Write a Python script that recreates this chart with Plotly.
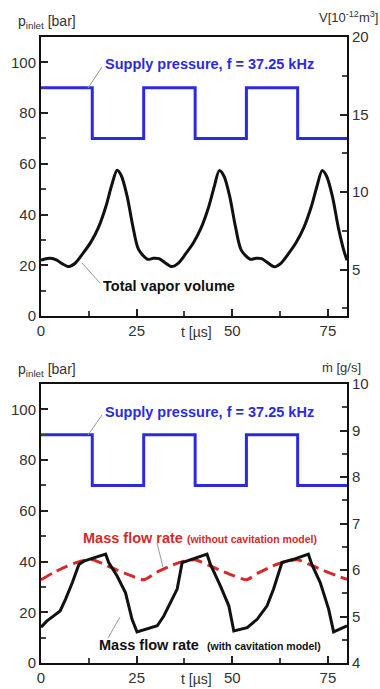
import plotly.graph_objects as go

# ---------------- data ----------------
# supply pressure square wave (bar), f = 37.25 kHz
p_t = [0, 13.4, 13.4, 26.85, 26.85, 40.3, 40.3, 53.7, 53.7, 67.1, 67.1, 80]
p_bar = [90, 90, 70, 70, 90, 90, 70, 70, 90, 90, 70, 70]

# total vapor volume (10^-12 m^3)
v_t = [0, 1, 2.5, 4, 5.5, 7.3, 9, 11, 13, 15, 17, 18.5, 19.9, 21, 22.5, 24, 25.5,
       27.85, 29.35, 30.85, 32.35, 34.15, 35.85, 37.85, 39.85, 41.85, 43.85, 45.35, 46.6, 47.85, 49.35, 50.85, 52.35,
       54.7, 56.2, 57.7, 59.2, 61.0, 62.7, 64.7, 66.7, 68.7, 70.7, 72.2, 73.5, 74.7, 76.2, 77.7, 79.2, 80]
v_vol = [5.60, 5.68, 5.72, 5.62, 5.38, 5.19, 5.42, 6.05, 6.75, 7.70, 9.10, 10.45, 11.40, 11.05, 9.75, 7.80, 6.30,
         5.66, 5.72, 5.70, 5.45, 5.19, 5.40, 6.02, 6.72, 7.68, 9.05, 10.40, 11.38, 11.02, 9.70, 7.75, 6.25,
         5.66, 5.72, 5.70, 5.45, 5.18, 5.40, 6.02, 6.74, 7.70, 9.08, 10.42, 11.38, 11.00, 9.70, 7.75, 6.20, 5.60]

# mass flow rate without cavitation model (g/s)
mr_t = [0, 3.4, 6.7, 10, 13.4, 16.8, 20.1, 23.5, 26.85, 30.2, 33.6, 36.9, 40.3, 43.6, 47.0, 50.3,
        53.7, 57.1, 60.4, 63.8, 67.1, 70.5, 73.8, 77.2, 80]
mr_val = [5.79, 5.95, 6.08, 6.18, 6.22, 6.11, 5.99, 5.88, 5.79, 5.95, 6.08, 6.18, 6.22, 6.11, 5.99, 5.88,
          5.79, 5.95, 6.08, 6.18, 6.22, 6.11, 5.99, 5.88, 5.80]

# mass flow rate with cavitation model (g/s)
mc_t = [0, 1.5, 3.4, 5.0, 6.4, 8.2, 9.9, 11.2, 13.8, 16.9, 17.7, 19.9, 22.1, 23.8, 25.1, 27.8, 30.4, 32.1, 33.8, 35.6,
        36.9, 39.9, 43.4, 44.3, 46.9, 49.1, 50.4, 53.9, 56.5, 59.1, 60.8, 63.0, 66.0, 69.9, 70.8, 73.0, 75.2,
        76.5, 79.1, 80]
mc_val = [4.77, 4.90, 5.02, 5.12, 5.37, 5.73, 6.12, 6.19, 6.26, 6.34, 6.16, 5.87, 5.51, 4.94, 4.67, 4.73, 4.80, 5.01,
          5.30, 5.59, 6.16, 6.24, 6.34, 6.12, 5.66, 5.23, 4.69, 4.76, 4.94, 5.23, 5.59, 6.16, 6.23, 6.34, 6.12, 5.73,
          5.16, 4.67, 4.77, 4.80]

x_ticks = [0, 25, 50, 75]
p_ticks = [0, 20, 40, 60, 80, 100]
v_ticks = [5, 10, 15, 20]
m_ticks = [4, 5, 6, 7, 8, 9, 10]

BLUE = "#2b2bdc"
RED = "#d42a2a"
BLACK = "#111111"
TXT = "#333333"
FONT = "Liberation Sans, Arial, sans-serif"

W, H = 380, 689
def py(pix):
    return 1 - pix / H
def px(pix):
    return pix / W

xdom = [px(41), px(347)]
top_dom = [py(316), py(37)]
bot_dom = [py(663), py(384)]

fig = go.Figure()

# top panel
fig.add_trace(go.Scatter(x=p_t, y=p_bar, mode="lines", line=dict(color=BLUE, width=3),
                         xaxis="x", yaxis="y", showlegend=False))
fig.add_trace(go.Scatter(x=v_t, y=v_vol, mode="lines", line=dict(color=BLACK, width=3, shape="spline", smoothing=0.8),
                         xaxis="x", yaxis="y2", showlegend=False))
# bottom panel
fig.add_trace(go.Scatter(x=p_t, y=p_bar, mode="lines", line=dict(color=BLUE, width=3),
                         xaxis="x2", yaxis="y3", showlegend=False))
fig.add_trace(go.Scatter(x=mr_t, y=mr_val, mode="lines",
                         line=dict(color=RED, width=3, dash="12px,6px", shape="spline", smoothing=0.6),
                         xaxis="x2", yaxis="y4", showlegend=False))
fig.add_trace(go.Scatter(x=mc_t, y=mc_val, mode="lines", line=dict(color=BLACK, width=3),
                         xaxis="x2", yaxis="y4", showlegend=False))

tickfont = dict(family=FONT, size=15, color=TXT)
common_x = dict(range=[0, 80], tickvals=x_ticks, ticks="inside", ticklen=7, tickwidth=1.5, tickcolor="#222",
                showline=True, linecolor="#111", linewidth=2, mirror=True, showgrid=False, zeroline=False,
                tickfont=tickfont, automargin=False,
                minor=dict(tickvals=[12.5, 37.5, 62.5], ticks="inside", ticklen=5, tickcolor="#444"))
common_yl = dict(ticks="inside", ticklen=7, tickwidth=1.5, tickcolor="#222", showline=True, linecolor="#111",
                 linewidth=2, showgrid=False, zeroline=False, tickfont=tickfont, automargin=False,
                 range=[0, 110], tickvals=p_ticks,
                 minor=dict(tickvals=[10, 30, 50, 70, 90], ticks="inside", ticklen=5, tickcolor="#444"))

fig.update_layout(
    width=W, height=H, margin=dict(l=0, r=0, t=0, b=0),
    paper_bgcolor="white", plot_bgcolor="white",
    xaxis=dict(domain=xdom, anchor="y", **common_x),
    yaxis=dict(domain=top_dom, anchor="x", **common_yl),
    yaxis2=dict(overlaying="y", side="right", anchor="x", range=[2, 20], tickvals=v_ticks,
                ticks="inside", ticklen=7, tickwidth=1.5, tickcolor="#222", showline=True, linecolor="#111",
                linewidth=2, showgrid=False, zeroline=False, tickfont=tickfont, automargin=False,
                minor=dict(tickvals=[2.5, 7.5, 12.5, 17.5], ticks="inside", ticklen=5, tickcolor="#444")),
    xaxis2=dict(domain=xdom, anchor="y3", **common_x),
    yaxis3=dict(domain=bot_dom, anchor="x2", **common_yl),
    yaxis4=dict(overlaying="y3", side="right", anchor="x2", range=[4, 10], tickvals=m_ticks,
                ticks="inside", ticklen=7, tickwidth=1.5, tickcolor="#222", showline=True, linecolor="#111",
                linewidth=2, showgrid=False, zeroline=False, tickfont=tickfont, automargin=False,
                minor=dict(tickvals=[4.5, 5.5, 6.5, 7.5, 8.5, 9.5], ticks="inside", ticklen=5, tickcolor="#444")),
)

ann = []
def text(xp, yp, s, size=13, color=TXT, bold=False, xanchor="left"):
    if bold:
        s = "<b>" + s + "</b>"
    ann.append(dict(xref="paper", yref="paper", x=px(xp), y=py(yp), text=s, showarrow=False,
                    xanchor=xanchor, yanchor="middle", font=dict(family=FONT, size=size, color=color)))

# axis titles
text(16, 22, "p<sub>inlet</sub> [bar]", size=14)
text(380, 17, "V[10<sup>-12</sup>m<sup>3</sup>]", size=13, xanchor="right")
text(196, 332, "t [µs]", size=14, xanchor="center")
text(16, 370, "p<sub>inlet</sub> [bar]", size=14)
text(363, 367, "ṁ [g/s]", size=13, xanchor="right")
text(196, 679, "t [µs]", size=14, xanchor="center")

# curve labels
text(103, 64, "Supply pressure, f = 37.25 kHz", size=14.5, color=BLUE, bold=True)
text(101, 286, "Total vapor volume", size=14.5, color=BLACK, bold=True)
text(103, 412, "Supply pressure, f = 37.25 kHz", size=14.5, color=BLUE, bold=True)
ann.append(dict(xref="paper", yref="paper", x=px(81), y=py(538), showarrow=False, xanchor="left", yanchor="middle",
                text="<b>Mass flow rate</b> <b><span style='font-size:10.5px'>(without cavitation model)</span></b>",
                font=dict(family=FONT, size=14.5, color=RED)))
ann.append(dict(xref="paper", yref="paper", x=px(97), y=py(645), showarrow=False, xanchor="left", yanchor="middle",
                text="<b>Mass flow rate</b>  <b><span style='font-size:10.5px'>(with cavitation model)</span></b>",
                font=dict(family=FONT, size=14.5, color=BLACK)))
fig.update_layout(annotations=ann)

# leader lines
def leader(x0, y0, x1, y1):
    fig.add_shape(type="line", xref="paper", yref="paper", x0=px(x0), y0=py(y0), x1=px(x1), y1=py(y1),
                  line=dict(color="#999999", width=1))
leader(102, 67, 88, 88)
leader(100, 283, 82, 263)
leader(102, 415, 88, 435)
leader(157, 543, 163, 567)
leader(108, 638, 120, 617)

fig.write_html("out.html")
